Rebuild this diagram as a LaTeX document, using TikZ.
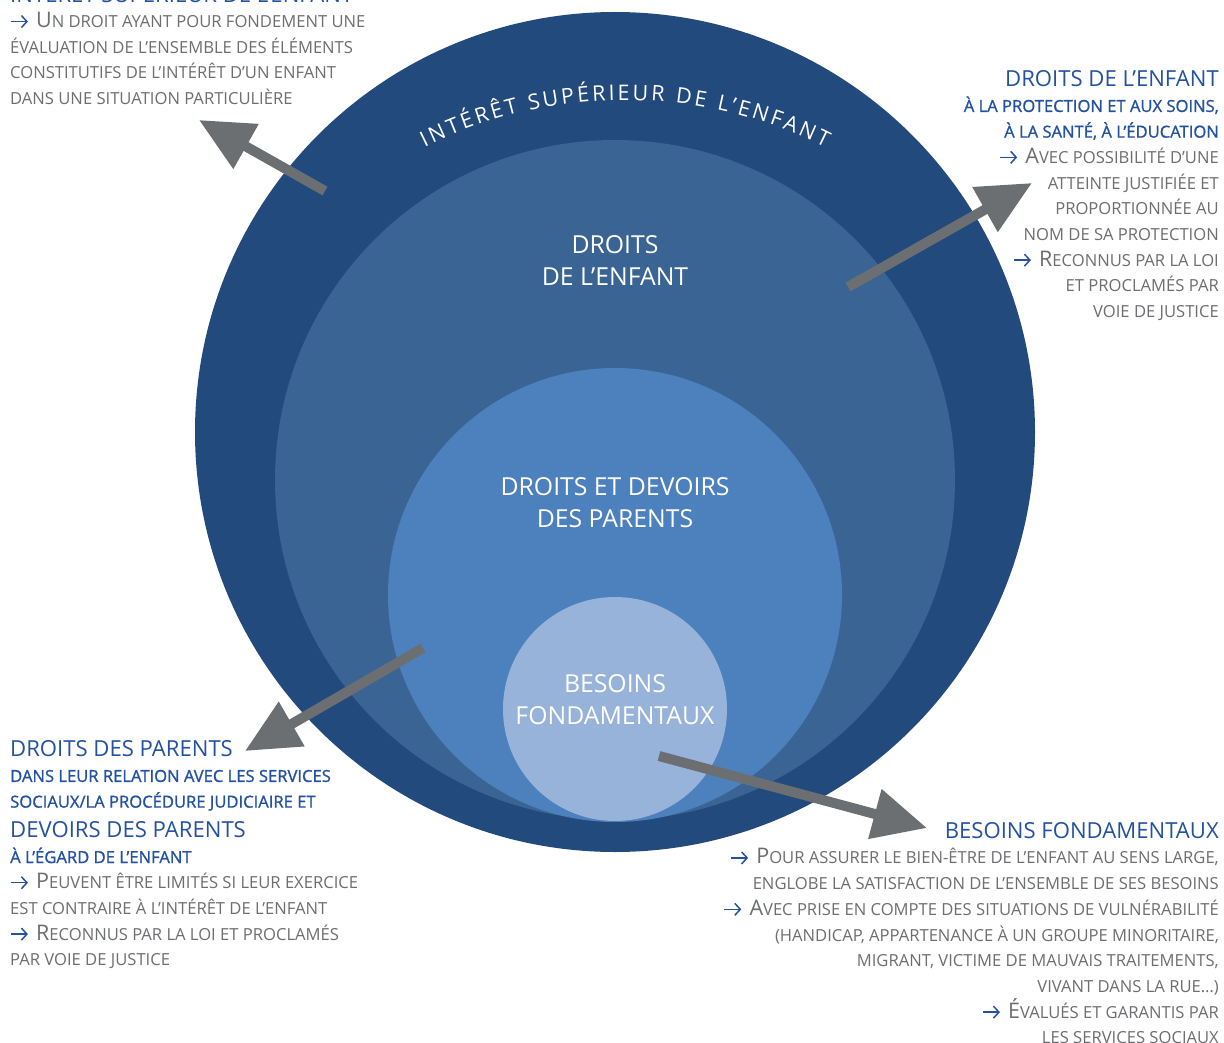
\documentclass[tikz,border=0pt]{standalone}
\usepackage{fontspec}
\setmainfont{Open Sans}
\newfontfamily\semifont[FakeBold=1.1]{Open Sans}
\usepackage{xcolor}
\usetikzlibrary{
    arrows.meta,
    decorations.text,
    positioning
}

\definecolor{ringA}{HTML}{224A7C}
\definecolor{ringB}{HTML}{3A6494}
\definecolor{ringC}{HTML}{4D81BE}
\definecolor{ringD}{HTML}{97B3D9}
\definecolor{txtblue}{HTML}{2352A2}
\definecolor{txtgrey}{HTML}{6D6E71}
\definecolor{arrowgrey}{HTML}{6C6F72}

\newcommand\ini[1]{{\fontsize{21.5}{25.7}\selectfont #1}}
\newcommand\fl{\tikz[baseline=0pt, x=1pt, y=1pt]\draw[txtblue, line width=1.5pt,
    -{Straight Barb[length=5.5pt, width=12pt]}] (0,6) -- (17,6);\hspace{0.45em}}
\newcommand\headline[1]{{\color{txtblue}\fontsize{22.1}{25.7}\selectfont #1}}
\newcommand\bluesub[1]{{\color{txtblue}\semifont #1}}

\begin{document}
\begin{tikzpicture}[x=1pt, y=1pt,
    ring/.style={circle, inner sep=0pt, minimum size=#1},
    ringlabel/.style={white, align=center, font=\fontsize{24.8}{32}\selectfont},
    block/.style={inner sep=0pt, txtgrey, font=\fontsize{16.6}{25.7}\selectfont},
    bigarrow/.style={arrowgrey, line width=10pt, -{Triangle[length=54pt, width=49pt]}}
]
    \fill[white] (0,0) rectangle (1224,-1043);
    \useasboundingbox (0,0) rectangle (1224,-1043);

    % nested circles
    \node[ring=840pt, fill=ringA] (outer) at (615,-432) {};
    \node[ring=680pt, fill=ringB] (enfant) at (615,-480) {};
    \node[ring=454pt, fill=ringC] (parents) at (615,-595) {};
    \node[ring=224pt, fill=ringD] (besoins) at (615,-709) {};

    \path[decorate, decoration={text along path, text align=fit to path,
        text={|\color{white}\fontsize{21.5}{21.5}\selectfont|INTÉRÊT SUPÉRIEUR DE L’ENFANT}}]
        (625,-549) ++(116.5:449) arc[start angle=116.5, end angle=63.5, radius=449];

    \node[ringlabel] (lblEnfant) at (615,-261) {DROITS\\DE L’ENFANT};
    \node[ringlabel] (lblParents) at (615,-503) {DROITS ET DEVOIRS\\DES PARENTS};
    \node[ringlabel] (lblBesoins) at (615,-700) {BESOINS\\FONDAMENTAUX};

    % text blocks
    \node[block, anchor=base west] (tlHead) at (10,-3) {\headline{INTÉRÊT SUPÉRIEUR DE L’ENFANT}};
    \node[inner sep=0pt, anchor=base east, txtgrey, font=\fontsize{9}{9}\selectfont\itshape] (credit) at (1205,-1) {Réalisation ONPE};

    \node[block, anchor=north west, align=left] (tlText) at (10,-12) {
        \fl\ini{U}N DROIT AYANT POUR FONDEMENT UNE\\
        ÉVALUATION DE L’ENSEMBLE DES ÉLÉMENTS\\
        CONSTITUTIFS DE L’INTÉRÊT D’UN ENFANT\\
        DANS UNE SITUATION PARTICULIÈRE};

    \node[block, anchor=north east, align=right] (trText) at (1219,-70) {
        \headline{DROITS DE L’ENFANT}\\
        \bluesub{À LA PROTECTION ET AUX SOINS,}\\
        \bluesub{À LA SANTÉ, À L’ÉDUCATION}\\
        \fl\ini{A}VEC POSSIBILITÉ D’UNE\\
        ATTEINTE JUSTIFIÉE ET\\
        PROPORTIONNÉE AU\\
        NOM DE SA PROTECTION\\
        \fl\ini{R}ECONNUS PAR LA LOI\\
        ET PROCLAMÉS PAR\\
        VOIE DE JUSTICE};

    \node[block, anchor=north west, align=left] (blText) at (10,-740) {
        \headline{DROITS DES PARENTS}\\
        \bluesub{DANS LEUR RELATION AVEC LES SERVICES}\\
        \bluesub{SOCIAUX/LA PROCÉDURE JUDICIAIRE ET}\\[4pt]
        \headline{DEVOIRS DES PARENTS}\\
        \bluesub{À L’ÉGARD DE L’ENFANT}\\
        \fl\ini{P}EUVENT ÊTRE LIMITÉS SI LEUR EXERCICE\\
        EST CONTRAIRE À L’INTÉRÊT DE L’ENFANT\\
        \fl\ini{R}ECONNUS PAR LA LOI ET PROCLAMÉS\\
        PAR VOIE DE JUSTICE};

    \node[block, anchor=north east, align=right] (brText) at (1219,-822) {
        \headline{BESOINS FONDAMENTAUX}\\
        \fl\ini{P}OUR ASSURER LE BIEN-ÊTRE DE L’ENFANT AU SENS LARGE,\\
        ENGLOBE LA SATISFACTION DE L’ENSEMBLE DE SES BESOINS\\
        \fl\ini{A}VEC PRISE EN COMPTE DES SITUATIONS DE VULNÉRABILITÉ\\
        (HANDICAP, APPARTENANCE À UN GROUPE MINORITAIRE,\\
        MIGRANT, VICTIME DE MAUVAIS TRAITEMENTS,\\
        VIVANT DANS LA RUE…)\\
        \fl\ini{É}VALUÉS ET GARANTIS PAR\\
        LES SERVICES SOCIAUX};

    % arrows from the rings to the texts
    \coordinate (fromOuter) at (325,-191);
    \coordinate (toOuter) at (199,-120);
    \coordinate (fromEnfant) at (848,-287);
    \coordinate (toEnfant) at (1032,-183);
    \coordinate (fromParents) at (423,-648);
    \coordinate (toParents) at (245,-751);
    \coordinate (fromBesoins) at (659,-756);
    \coordinate (toBesoins) at (927,-828);
    \draw[bigarrow] (fromOuter) -- (toOuter);
    \draw[bigarrow] (fromEnfant) -- (toEnfant);
    \draw[bigarrow] (fromParents) -- (toParents);
    \draw[bigarrow] (fromBesoins) -- (toBesoins);
\end{tikzpicture}
\end{document}
